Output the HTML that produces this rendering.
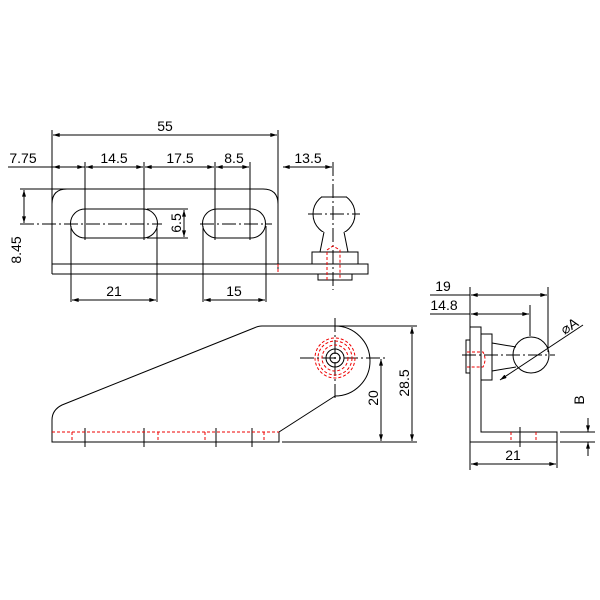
<!DOCTYPE html>
<html><head><style>body{margin:0;background:#fff}svg{display:block}</style></head><body>
<svg width="600" height="600" viewBox="0 0 600 600" xmlns="http://www.w3.org/2000/svg" font-family="Liberation Sans, sans-serif" font-size="14">
<defs><marker id="a" viewBox="0 0 10 6" refX="10" refY="3" markerWidth="8" markerHeight="4" orient="auto-start-reverse"><path d="M0,0L10,3L0,6z" fill="#000"/></marker>
<clipPath id="bc"><rect x="300" y="197" width="80" height="35"/></clipPath></defs>
<g stroke="#000" stroke-width="1" fill="none">
<!-- top view -->
<path d="M52,130V274M278,130V270"/>
<line x1="53" y1="135" x2="277" y2="135" marker-start="url(#a)" marker-end="url(#a)"/>
<path d="M8,167H85"/>
<line x1="53" y1="167" x2="84" y2="167" marker-start="url(#a)" marker-end="url(#a)"/>
<line x1="86" y1="167" x2="143" y2="167" marker-start="url(#a)" marker-end="url(#a)"/>
<line x1="145" y1="167" x2="214" y2="167" marker-start="url(#a)" marker-end="url(#a)"/>
<line x1="216" y1="167" x2="249" y2="167" marker-start="url(#a)" marker-end="url(#a)"/>
<line x1="283" y1="167" x2="332" y2="167" marker-start="url(#a)" marker-end="url(#a)"/>
<path d="M85,162V240M144,162V240M215,162V240M250,162V240"/>
<path d="M333,162V290" stroke-dasharray="14,3,2,3"/>
<path d="M52,274V204Q52,189 67,189H263Q278,189 278,204V264"/>
<path d="M20,189H70M52,264H368V274H52"/>
<path d="M85,209H143A14.5,14.5 0 0 1 143,238H85A14.5,14.5 0 0 1 85,209Z"/>
<path d="M217,209H251A14.5,14.5 0 0 1 251,238H217A14.5,14.5 0 0 1 217,209Z"/>
<path d="M147,209H188M147,238H188"/>
<line x1="184" y1="210" x2="184" y2="237" marker-start="url(#a)" marker-end="url(#a)"/>
<path d="M20,224H162M200,224H272" stroke-dasharray="14,3,2,3"/>
<line x1="24" y1="190" x2="24" y2="223" marker-start="url(#a)" marker-end="url(#a)"/>
<path d="M71,226V302M157,226V302M203,226V302M266,226V302"/>
<line x1="72" y1="300" x2="156" y2="300" marker-start="url(#a)" marker-end="url(#a)"/>
<line x1="204" y1="300" x2="265" y2="300" marker-start="url(#a)" marker-end="url(#a)"/>
<circle cx="334" cy="214" r="21" clip-path="url(#bc)"/>
<path d="M321,197H347M324,232L320,252M344,232L348,252"/>
<path d="M312,252H358V264H312ZM318,274H352V280H318Z"/>
<path d="M308,214H360" stroke-dasharray="14,3,2,3"/>
<!-- side view -->
<path d="M262,326H417M262,326Q258,326 254,328L62,405Q52,410 52,420V442H279V432L335,396M335,326A32,32 0 0 1 335,396M282,442H417"/>
<path d="M300,358H387M335,318V398" stroke-dasharray="14,3,2,3"/>
<circle cx="335" cy="358" r="9"/><circle cx="335" cy="358" r="5"/>
<line x1="381" y1="359" x2="381" y2="441" marker-start="url(#a)" marker-end="url(#a)"/>
<line x1="412" y1="327" x2="412" y2="441" marker-start="url(#a)" marker-end="url(#a)"/>
<path d="M85,428V447M144,428V447M216,428V447M252,428V447"/>
<!-- right view -->
<path d="M470,287V470M548,287V352M530,305V336M557,442V468"/>
<line x1="471" y1="295" x2="547" y2="295" marker-start="url(#a)" marker-end="url(#a)"/>
<line x1="471" y1="314" x2="529" y2="314" marker-start="url(#a)" marker-end="url(#a)"/>
<path d="M430,295H470M430,314H470"/>
<path d="M470,327H481V432H557V442H470ZM481,334H492V380H481ZM466,340H470V373H466Z"/>
<path d="M492,343L516,347M492,371L516,367"/>
<circle cx="531" cy="355" r="18"/>
<path d="M462,355H555" stroke-dasharray="14,3,2,3"/>
<line x1="500" y1="380" x2="583" y2="325" marker-start="url(#a)"/>
<path d="M560,432H595M560,442H595"/>
<line x1="588" y1="418" x2="588" y2="432" marker-end="url(#a)"/>
<line x1="588" y1="456" x2="588" y2="442" marker-end="url(#a)"/>
<line x1="471" y1="464" x2="556" y2="464" marker-start="url(#a)" marker-end="url(#a)"/>
<path d="M520,427V447"/>
</g>
<g stroke="#e00" stroke-width="1" fill="none" stroke-dasharray="3,2">
<path d="M278,264V274M327,280V250L333,246L340,250V280"/>
<circle cx="335" cy="358" r="20"/><circle cx="335" cy="358" r="13"/><circle cx="335" cy="358" r="17"/>
<path d="M52,432H279M72,432V442M158,432V442M205,432V442M264,432V442"/>
<path d="M467,352H483Q487,359 483,367H467M511,432V442M536,432V442"/>
</g>
<g fill="#000">
<text x="165" y="131" text-anchor="middle">55</text>
<text x="23" y="163" text-anchor="middle">7.75</text>
<text x="114" y="163" text-anchor="middle">14.5</text>
<text x="180" y="163" text-anchor="middle">17.5</text>
<text x="234" y="163" text-anchor="middle">8.5</text>
<text x="308" y="163" text-anchor="middle">13.5</text>
<text x="114" y="296" text-anchor="middle">21</text>
<text x="234" y="296" text-anchor="middle">15</text>
<text transform="translate(181,223) rotate(-90)" text-anchor="middle">6.5</text>
<text transform="translate(21,250) rotate(-90)" text-anchor="middle">8.45</text>
<text transform="translate(378,398) rotate(-90)" text-anchor="middle">20</text>
<text transform="translate(409,383) rotate(-90)" text-anchor="middle">28.5</text>
<text x="443" y="291" text-anchor="middle">19</text>
<text x="444" y="310" text-anchor="middle">14.8</text>
<text x="513" y="460" text-anchor="middle">21</text>
<text transform="translate(584,400) rotate(-90)" text-anchor="middle">B</text>
<text transform="translate(572,330) rotate(-33)" text-anchor="middle">⌀A</text>
</g>
</svg>
</body></html>
